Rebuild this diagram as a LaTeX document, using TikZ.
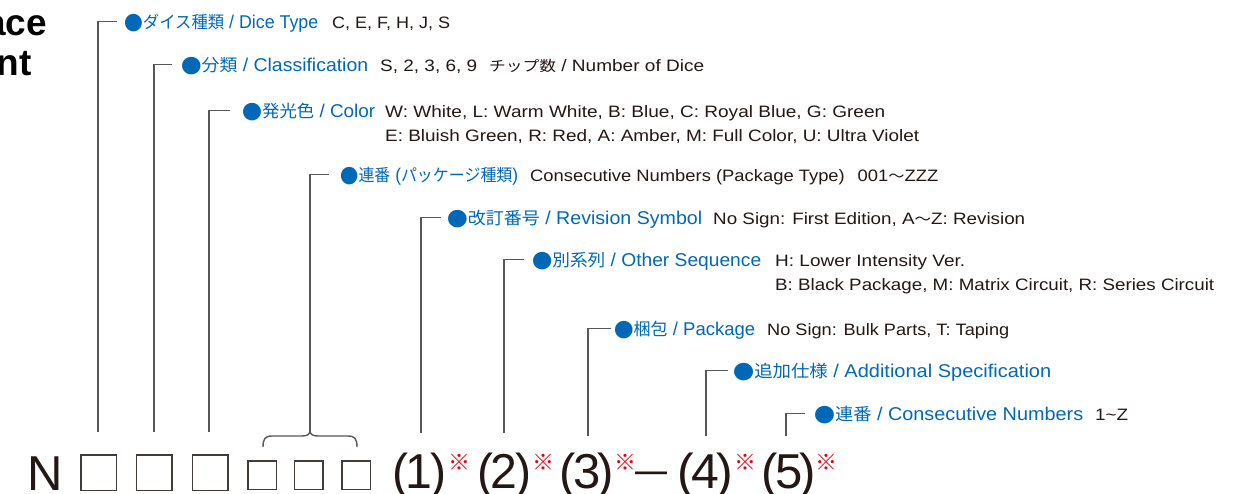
\documentclass[tikz,border=0pt]{standalone}
\usepackage{fontspec}
\usepackage{graphicx}
\setmainfont{Liberation Sans}
\newfontfamily\jp{Noto Sans CJK JP}
\definecolor{lblue}{RGB}{0,104,183}
\definecolor{ink}{RGB}{35,24,21}
\definecolor{leadgray}{RGB}{89,87,87}
\definecolor{kmark}{RGB}{230,0,18}
\newcommand\fitw[2]{\resizebox{#1pt}{\height}{#2}}
\newcommand\bl{\fontsize{18.5}{22}\selectfont}
\newcommand\jpb{\jp\fontsize{17}{18}\selectfont}
\newcommand\bdot{\raisebox{-2pt}{\jp\fontsize{19.5}{22}\selectfont ●}}
\newcommand\bd{\fontsize{16.5}{20}\selectfont}
\newcommand\jps{\jp\fontsize{14.5}{17}\selectfont}
\newcommand\paren[1]{(\kern-2.5pt#1\kern-2.5pt)}
\newcommand\komechar{\makebox[15pt]{※}}
\tikzset{
  lead/.style={draw=leadgray, line width=1.4pt},
  blab/.style={anchor=base west, inner sep=0pt, text=lblue, font=\bl},
  body/.style={anchor=base west, inner sep=0pt, text=ink, font=\bd},
  sqbox/.style={draw=ink!85, line width=1.5pt, inner sep=0pt},
  big/.style={anchor=base west, inner sep=0pt, text=ink, font=\fontsize{49}{49}\selectfont},
  kome/.style={inner sep=0pt, text=kmark, font=\jp\fontsize{22}{22}\selectfont},
  ttl/.style={anchor=base east, inner sep=0pt, text=black, font=\bfseries\fontsize{37}{37}\selectfont}
}
\begin{document}
\begin{tikzpicture}[x=1pt,y=-1pt]
\useasboundingbox[fill=white] (0,0) rectangle (1246,493);
% title fragment
\node[ttl] (ti1) at (47,35) {ace};
\node[ttl] (ti2) at (32,75) {nt};
% labels
\node[blab] (l1) at (124,28) {\fitw{194}{\bdot{\jpb ダイス種類} / Dice Type}};
\node[blab] (l2) at (181,71) {\fitw{187}{\bdot{\jpb 分類} / Classification}};
\node[blab] (l3) at (242,117) {\fitw{133}{\bdot{\jpb 発光色} / Color}};
\node[blab] (l4) at (340,181) {\fitw{178}{\bdot{\jpb 連番} ({\jpb パッケージ種類})}};
\node[blab] (l5) at (447,224) {\fitw{255}{\bdot{\jpb 改訂番号} / Revision Symbol}};
\node[blab] (l6) at (532,266) {\fitw{229}{\bdot{\jpb 別系列} / Other Sequence}};
\node[blab] (l7) at (614,335) {\fitw{141}{\bdot{\jpb 梱包} / Package}};
\node[blab] (l8) at (733,377) {\fitw{318}{\bdot{\jpb 追加仕様} / Additional Specification}};
\node[blab] (l9) at (814,420) {\fitw{269}{\bdot{\jpb 連番} / Consecutive Numbers}};
% body texts
\node[body] (t1) at (332,28) {\fitw{118}{C, E, F, H, J, S}};
\node[body] (t2a) at (380,71) {\fitw{97}{S, 2, 3, 6, 9}};
\node[body] (t2b) at (489,71) {\fitw{215}{{\jps チップ数} / Number of Dice}};
\node[body] (t3a) at (385,117) {\fitw{500}{W: White, L: Warm White, B: Blue, C: Royal Blue, G: Green}};
\node[body] (t3b) at (385,141) {\fitw{534}{E: Bluish Green, R: Red, A: Amber, M: Full Color, U: Ultra Violet}};
\node[body] (t4) at (530,181) {\fitw{408}{Consecutive Numbers (Package Type)\hspace{0.7em}001{\jps ～}ZZZ}};
\node[body] (t5) at (713,224) {\fitw{312}{No Sign: First Edition, A{\jps ～}Z: Revision}};
\node[body] (t6a) at (775,266) {\fitw{190}{H: Lower Intensity Ver.}};
\node[body] (t6b) at (775,290) {\fitw{439}{B: Black Package, M: Matrix Circuit, R: Series Circuit}};
\node[body] (t7) at (767,335) {\fitw{242}{No Sign: Bulk Parts, T: Taping}};
\node[body] (t9) at (1095,420) {\fitw{33}{1\textasciitilde Z}};
% part number row
\node[big] (n) at (27,490) {N};
\node[sqbox, minimum size=35.5pt] (b1) at (98.5,472.5) {};
\node[sqbox, minimum size=35.5pt] (b2) at (154,472.5) {};
\node[sqbox, minimum size=35.5pt] (b3) at (210,472.5) {};
\node[sqbox, minimum size=28.5pt] (b4) at (262,475) {};
\node[sqbox, minimum size=28.5pt] (b5) at (308.5,475) {};
\node[sqbox, minimum size=28.5pt] (b6) at (356,475) {};
\node[big] (p1) at (392,488) {\fitw{54}{\paren{1}}};
\node[big] (p2) at (477,488) {\fitw{54}{\paren{2}}};
\node[big] (p3) at (559,488) {\fitw{55}{\paren{3}}};
\node[big] (p4) at (677,488) {\fitw{56}{\paren{4}}};
\node[big] (p5) at (761,488) {\fitw{55}{\paren{5}}};
\node[kome] (k1) at (459.5,462) {\komechar};
\node[kome] (k2) at (543.5,462) {\komechar};
\node[kome] (k3) at (625.5,462) {\komechar};
\node[kome] (k4) at (745,462) {\komechar};
\node[kome] (k5) at (826,462) {\komechar};
\node[big, font=\fontsize{40}{40}\selectfont] (dash) at (635,483) {\fitw{32}{—}};
% connector ends
\coordinate (e1) at (98,432);
\coordinate (e2) at (154,432);
\coordinate (e3) at (209,432);
\coordinate (e4) at (310,431);
\coordinate (e5) at (421,433);
\coordinate (e6) at (504,433);
\coordinate (e7) at (588,436);
\coordinate (e8) at (706,436);
\coordinate (e9) at (786,436);
% brace
\draw[lead] (263,447) .. controls (263,439) and (265,436) .. (272,436) -- (302,436)
  .. controls (307,436) and (310,434.5) .. (e4)
  .. controls (310,434.5) and (313,436) .. (318,436) -- (348,436)
  .. controls (355,436) and (357,439) .. (357,447);
% connectors
\draw[lead] (e1) |- ([xshift=-7pt,yshift=6.5pt]l1.base west);
\draw[lead] (e2) |- ([xshift=-9pt,yshift=6.5pt]l2.base west);
\draw[lead] (e3) |- ([xshift=-12pt,yshift=6.5pt]l3.base west);
\draw[lead] (e4) |- ([xshift=-11pt,yshift=6.5pt]l4.base west);
\draw[lead] (e5) |- ([xshift=-6pt,yshift=6.5pt]l5.base west);
\draw[lead] (e6) |- ([xshift=-8pt,yshift=6.5pt]l6.base west);
\draw[lead] (e7) |- ([xshift=-3pt,yshift=6.5pt]l7.base west);
\draw[lead] (e8) |- ([xshift=-5pt,yshift=6.5pt]l8.base west);
\draw[lead] (e9) |- ([xshift=-9pt,yshift=6.5pt]l9.base west);
\end{tikzpicture}
\end{document}
